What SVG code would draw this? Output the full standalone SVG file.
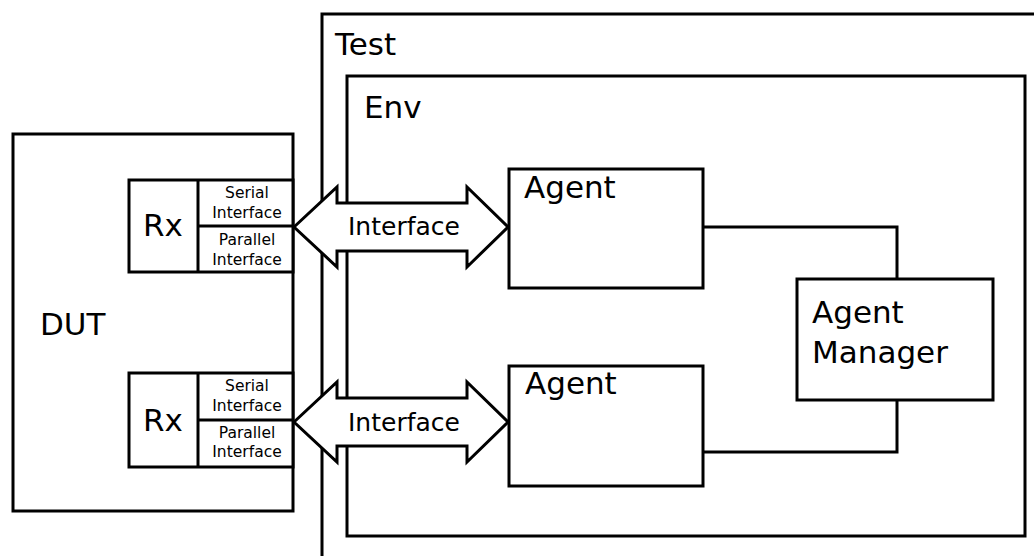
<svg xmlns="http://www.w3.org/2000/svg" width="1034" height="556" viewBox="0 0 1034 556">
<style>
.b{fill:#fff;stroke:#000;stroke-width:3;stroke-linejoin:miter}
.l{fill:none;stroke:#000;stroke-width:3}
.t{font-family:"DejaVu Sans",sans-serif;fill:#000}
.big{font-size:31px}
.mid{font-size:25px}
.sm{font-size:15.5px;text-anchor:middle}
</style>
<g id="test">
<rect class="b" x="322" y="14" width="730" height="560"/>
<text class="t big" x="335" y="55">Test</text>
</g>
<g id="env">
<rect class="b" x="347" y="76" width="678" height="460"/>
<text class="t big" x="364" y="118">Env</text>
</g>
<g id="dut">
<rect class="b" x="13" y="134" width="280" height="377"/>
<text class="t big" x="40" y="335">DUT</text>
</g>
<g id="rx1">
<rect class="b" x="129" y="180" width="164" height="92"/>
<line class="l" x1="198" y1="180" x2="198" y2="272"/>
<line class="l" x1="198" y1="226" x2="293" y2="226"/>
<text class="t big" x="143" y="236">Rx</text>
<text class="t sm" x="247" y="198">Serial</text>
<text class="t sm" x="247" y="218">Interface</text>
<text class="t sm" x="247" y="245">Parallel</text>
<text class="t sm" x="247" y="265">Interface</text>
</g>
<g id="rx2">
<rect class="b" x="129" y="373" width="164" height="94"/>
<line class="l" x1="198" y1="373" x2="198" y2="467"/>
<line class="l" x1="198" y1="420" x2="293" y2="420"/>
<text class="t big" x="143" y="431">Rx</text>
<text class="t sm" x="247" y="391">Serial</text>
<text class="t sm" x="247" y="411">Interface</text>
<text class="t sm" x="247" y="438">Parallel</text>
<text class="t sm" x="247" y="457">Interface</text>
</g>
<g id="connectors">
<polyline class="l" points="703,227 897,227 897,279"/>
<polyline class="l" points="897,400 897,452 704,452"/>
</g>
<g id="if1">
<path class="b" d="M294,227 L337,187 L337,203 L467,203 L467,187 L508,227 L467,267 L467,251 L337,251 L337,267 Z"/>
<text class="t mid" x="348" y="235">Interface</text>
</g>
<g id="if2">
<path class="b" d="M294,422 L337,382 L337,398 L467,398 L467,382 L508,422 L467,462 L467,446 L337,446 L337,462 Z"/>
<text class="t mid" x="348" y="431">Interface</text>
</g>
<g id="agent1">
<rect class="b" x="509" y="169" width="194" height="119"/>
<text class="t big" x="524" y="198">Agent</text>
</g>
<g id="agent2">
<rect class="b" x="509" y="366" width="194" height="120"/>
<text class="t big" x="525" y="394">Agent</text>
</g>
<g id="manager">
<rect class="b" x="797" y="279" width="196" height="121"/>
<text class="t big" x="812" y="323">Agent</text>
<text class="t big" x="812" y="363">Manager</text>
</g>
</svg>
